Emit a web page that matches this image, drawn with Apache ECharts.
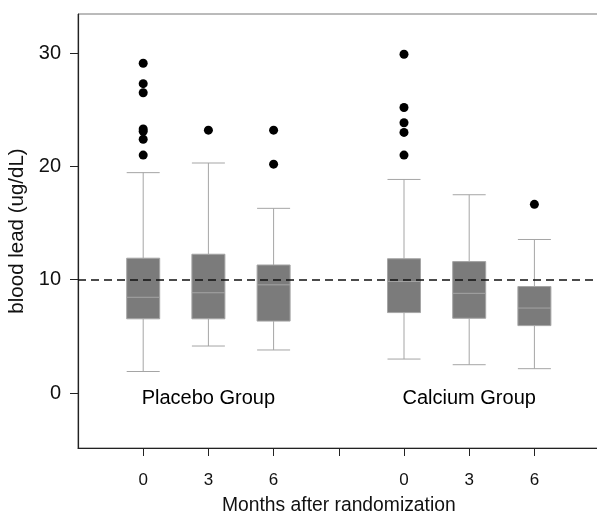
<!DOCTYPE html>
<html>
<head>
<meta charset="utf-8">
<script src="https://cdn.jsdelivr.net/npm/echarts@6/dist/echarts.min.js"></script>
<style>
    html, body { margin: 0; padding: 0; background: #fff; }
    #chart { width: 597px; height: 515px; }
</style>
</head>
<body>
<div id="chart"></div>
<script>
// x slots: 0 and 8 are the edges, 4 is the gap between groups
const slots = ["", "0", "3", "6", "", "0", "3", "6", ""];
const boxSlots = [1, 2, 3, 5, 6, 7];
// [min, Q1, median, Q3, max]
const boxStats = [
    [1.9, 6.55, 8.45, 11.9, 19.45],
    [4.15, 6.55, 8.85, 12.25, 20.3],
    [3.8, 6.35, 9.55, 11.3, 16.3],
    [3.0, 7.1, 9.85, 11.85, 18.85],
    [2.5, 6.6, 8.8, 11.6, 17.5],
    [2.15, 5.95, 7.5, 9.4, 13.55]
];
const outlierSlots = [1, 1, 1, 1, 1, 1, 1, 2, 3, 3, 5, 5, 5, 5, 5, 7];
const outlierValues = [29.1, 27.3, 26.5, 23.3, 23.1, 22.4, 21.0, 23.2, 23.2, 20.2, 29.9, 25.2, 23.85, 23.0, 21.0, 16.65];
const yTicks = [0, 10, 20, 30];
const groupNames = ["Placebo Group", "Calcium Group"];
const groupSlots = [2, 6];
const refLevel = 10;

const chart = echarts.init(document.getElementById("chart"));

chart.setOption({
    animation: false,
    textStyle: { fontFamily: "Liberation Sans, Arial, sans-serif" },
    grid: {
        left: 78,
        top: 14,
        width: 521.6,
        height: 434,
        outerBoundsMode: "none",
        containLabel: false,
        show: true,
        borderColor: "#777",
        borderWidth: 1
    },
    xAxis: {
        type: "category",
        data: slots,
        boundaryGap: false,
        name: "Months after randomization",
        nameLocation: "middle",
        nameGap: 48,
        nameTextStyle: { fontSize: 19.3, color: "#111" },
        axisLine: { onZero: false, lineStyle: { color: "#222", width: 1.2 } },
        axisTick: {
            interval: function (idx) { return idx !== 0; },
            length: 8,
            lineStyle: { color: "#222" }
        },
        axisLabel: { interval: 0, fontSize: 17, color: "#111", margin: 24 },
        splitLine: { show: false }
    },
    yAxis: {
        type: "value",
        min: -4.85,
        max: 33.45,
        name: "blood lead (ug/dL)",
        nameLocation: "middle",
        nameGap: 45,
        nameTextStyle: { fontSize: 20.5, color: "#111" },
        axisLine: { show: true, lineStyle: { color: "#222", width: 1.2 } },
        axisTick: { show: true, length: 8, lineStyle: { color: "#222" }, customValues: yTicks },
        axisLabel: { fontSize: 20, color: "#111", margin: 17, customValues: yTicks },
        splitLine: { show: false }
    },
    series: [
        {
            type: "boxplot",
            data: boxStats.map(function (s, i) { return [boxSlots[i]].concat(s); }),
            encode: { x: 0, y: [1, 2, 3, 4, 5] },
            boxWidth: [33, 33],
            itemStyle: {
                color: "#7b7b7b",
                borderColor: "#a5a5a5",
                borderWidth: 1
            },
            emphasis: { disabled: true },
            z: 2
        },
        {
            type: "scatter",
            data: outlierValues.map(function (v, i) { return [outlierSlots[i], v]; }),
            symbol: "circle",
            symbolSize: 9,
            itemStyle: { color: "#000", opacity: 1 },
            z: 3,
            markLine: {
                silent: true,
                symbol: "none",
                label: { show: false },
                lineStyle: { color: "#111", type: [8, 5], width: 1.6 },
                data: [{ yAxis: refLevel }]
            }
        },
        {
            type: "scatter",
            data: groupNames.map(function (n, i) {
                return { name: n, value: [groupSlots[i], -0.5] };
            }),
            symbolSize: 0,
            itemStyle: { opacity: 1 },
            label: {
                show: true,
                position: "inside",
                formatter: "{b}",
                fontSize: 20,
                color: "#000"
            },
            z: 4
        }
    ]
});
</script>
</body>
</html>
